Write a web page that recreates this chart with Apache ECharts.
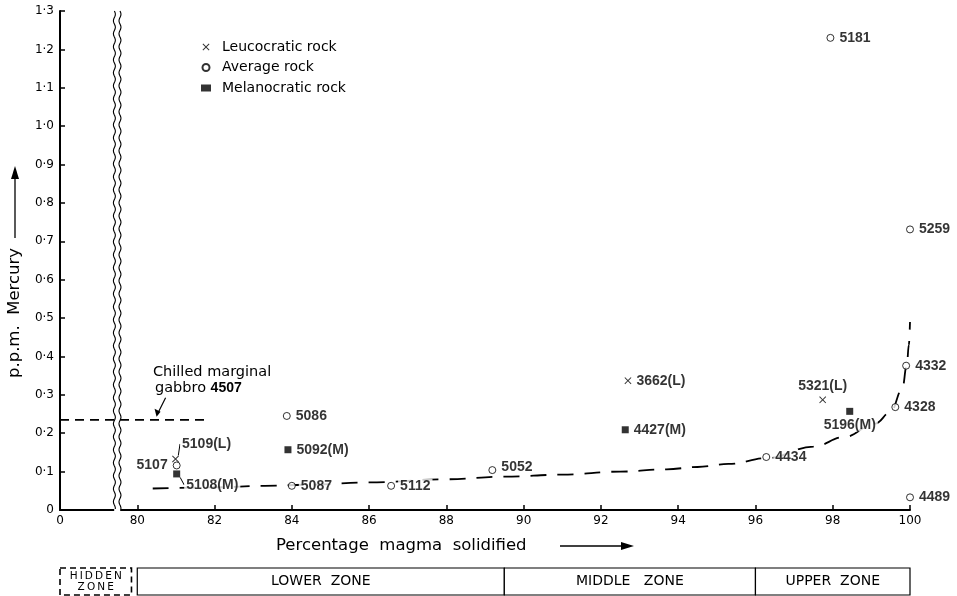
<!DOCTYPE html>
<html><head><meta charset="utf-8">
<script src="https://cdn.jsdelivr.net/npm/echarts@6/dist/echarts.min.js"></script>
<style>html,body{margin:0;padding:0;background:#fff}#c{width:957px;height:596px}</style>
</head><body><div id="c"></div>
<script>
// ---------- data ----------
const ZERO_AT = 78; // axis position at which the real value 0 is drawn (broken axis)
const xTickLabels = ['0','80','82','84','86','88','90','92','94','96','98','100'];
const yTickLabels = ['0','0·1','0·2','0·3','0·4','0·5','0·6','0·7','0·8','0·9','1·0','1·1','1·2','1·3'];

const leucoX  = [80.99, 92.70, 97.74];
const leucoY  = [0.133, 0.337, 0.287];
const leucoId = ['5109(L)', '3662(L)', '5321(L)'];

const avgX  = [97.94, 100.0, 99.90, 99.62, 100.0, 96.28, 89.19, 86.57, 84.00, 83.87, 81.02];
const avgY  = [1.230, 0.731, 0.376, 0.268, 0.033, 0.138, 0.104, 0.063, 0.063, 0.245, 0.116];
const avgId = ['5181', '5259', '4332', '4328', '4489', '4434', '5052', '5112', '5087', '5086', '5107'];

const melX  = [81.02, 83.90, 92.63, 98.44];
const melY  = [0.094, 0.157, 0.209, 0.257];
const melId = ['5108(M)', '5092(M)', '4427(M)', '5196(M)'];

const trendX = [80.4, 82.0, 83.3, 84.5, 86.0, 88.0, 89.5, 91.0, 92.5, 93.7, 94.5, 95.3, 96.3, 97.5, 98.3, 99.1, 99.5, 99.8, 99.92, 99.97, 100.0];
const trendY = [0.056, 0.059, 0.063, 0.066, 0.072, 0.080, 0.087, 0.092, 0.100, 0.106, 0.112, 0.120, 0.135, 0.165, 0.190, 0.225, 0.255, 0.315, 0.380, 0.430, 0.490];

const gabbroValue = 0.235;           // chilled marginal gabbro 4507
const gabbroRange = [0, 81.75];      // real x extent of the dashed line

const zoneNames = ['H\u2009I\u2009D\u2009D\u2009E\u2009N\nZ\u2009O\u2009N\u2009E', 'LOWER  ZONE', 'MIDDLE   ZONE', 'UPPER  ZONE'];
const zoneStart = [0, 80, 89.5, 96];
const zoneEnd   = [79.85, 89.5, 96, 100];
const zoneDashed = [true, false, false, false];

const breakAt = 79.48; // position of the axis break

// ---------- helpers ----------
const toAxis = v => (v < 50 ? ZERO_AT + v : v);
const INK = '#000';
const FONT = '"Liberation Sans", Arial, sans-serif';
const WIDE = '"DejaVu Sans", sans-serif';

const labelSide = { '5107': 'left', '5321(L)': 'top', '5196(M)': 'bottom' };
const labelOffset = { '5321(L)': [10, 0], '5196(M)': [-1, 0], '5052': [0, -3] };
const leaderMove = { '5109(L)': { dx: -2, dy: -15 }, '5108(M)': { dx: 1, dy: 11 } };

function pts(xs, ys, ids) {
  return xs.map((x, i) => {
    const id = ids[i];
    const item = { value: [toAxis(x), ys[i]], name: id };
    const lab = {};
    if (labelSide[id]) lab.position = labelSide[id];
    if (labelOffset[id]) lab.offset = labelOffset[id];
    item.label = lab;
    if (leaderMove[id]) item.labelLine = { show: true, lineStyle: { color: INK, width: 1 } };
    return item;
  });
}
const labelStyle = { show: true, position: 'right', distance: 3, formatter: p => p.name,
  fontFamily: FONT, fontWeight: 'bold', fontSize: 14, color: INK,
  backgroundColor: '#fff', padding: [0, 2] };
function layoutFor(ids) {
  return function (p) {
    const m = leaderMove[ids[p.dataIndex]];
    return m ? { dx: m.dx, dy: m.dy } : {};
  };
}

const chart = echarts.init(document.getElementById('c'), null, { renderer: 'canvas' });

const option = {
  animation: false,
  backgroundColor: '#fff',
  grid: [
    { left: 60, right: 47, top: 11, bottom: 86 },
    { left: 60, right: 47, top: 568, height: 27 }
  ],
  xAxis: [
    { gridIndex: 0, type: 'value', min: ZERO_AT, max: 100, interval: 2,
      axisLine: { lineStyle: { color: INK, width: 2 } },
      axisTick: { inside: true, length: 5, lineStyle: { color: INK, width: 1.5 } },
      splitLine: { show: false },
      axisLabel: { color: INK, fontFamily: WIDE, fontSize: 12, margin: 5,
        formatter: v => xTickLabels[Math.round((v - ZERO_AT) / 2)] } },
    { gridIndex: 1, type: 'value', min: ZERO_AT, max: 100, show: false }
  ],
  yAxis: [
    { gridIndex: 0, type: 'value', min: 0, max: 1.3, interval: 0.1,
      axisLine: { show: true, lineStyle: { color: INK, width: 2 } },
      axisTick: { show: true, inside: true, length: 5, lineStyle: { color: INK, width: 1.5 } },
      splitLine: { show: false },
      axisLabel: { color: INK, fontFamily: WIDE, fontSize: 12, margin: 6,
        formatter: v => yTickLabels[Math.round(v * 10)] } },
    { gridIndex: 1, type: 'value', min: 0, max: 1, show: false }
  ],
  legend: {
    orient: 'vertical', left: 196, top: 35, itemWidth: 10, itemHeight: 7, itemGap: 6.5,
    textStyle: { fontFamily: WIDE, fontSize: 14, color: INK, padding: [0, 0, 0, 6] },
    data: ['Leucocratic rock', 'Average rock', 'Melanocratic rock']
  },
  series: [
    { name: 'trend', type: 'line', xAxisIndex: 0, yAxisIndex: 0, z: 1, smooth: 0.4, smoothMonotone: 'x',
      showSymbol: false, symbol: 'none', silent: true,
      lineStyle: { color: INK, width: 1.8, type: [16, 11] },
      data: trendX.map((x, i) => [x, trendY[i]]) },
    { name: 'gabbro', type: 'line', xAxisIndex: 0, yAxisIndex: 0, z: 1, symbol: 'none', silent: true,
      lineStyle: { color: INK, width: 1.8, type: [9, 6] },
      data: gabbroRange.map(x => [toAxis(x), gabbroValue]) },
    { name: 'break', type: 'custom', xAxisIndex: 0, yAxisIndex: 0, z: 2, silent: true,
      data: [[breakAt]],
      renderItem: function (params, api) {
        const xv = api.value(0);
        const top = api.coord([xv, 1.3]);
        const bot = api.coord([xv, 0]);
        const children = [{ type: 'rect', shape: { x: top[0] - 3, y: top[1], width: 6, height: bot[1] - top[1] + 2 },
          style: { fill: '#fff' } }];
        [-2.8, 2.8].forEach(off => {
          const p = [];
          for (let y = top[1]; y <= bot[1]; y += 1.5) {
            p.push([top[0] + off + 1.0 * Math.sin((y - top[1]) / 13 * 2 * Math.PI), y]);
          }
          children.push({ type: 'polyline', shape: { points: p }, style: { stroke: INK, lineWidth: 1.1, fill: null } });
        });
        return { type: 'group', children };
      } },
    { name: 'Leucocratic rock', type: 'scatter', xAxisIndex: 0, yAxisIndex: 0, z: 5,
      symbol: 'path://M0,1L1,0L5,4L9,0L10,1L6,5L10,9L9,10L5,6L1,10L0,9L4,5Z', symbolSize: 7,
      itemStyle: { color: INK },
      label: labelStyle, labelLayout: layoutFor(leucoId),
      data: pts(leucoX, leucoY, leucoId) },
    { name: 'Average rock', type: 'scatter', xAxisIndex: 0, yAxisIndex: 0, z: 5,
      symbol: 'circle', symbolSize: 7,
      itemStyle: { color: '#fff', borderColor: INK, borderWidth: 1 },
      label: labelStyle,
      data: pts(avgX, avgY, avgId) },
    { name: 'Melanocratic rock', type: 'scatter', xAxisIndex: 0, yAxisIndex: 0, z: 5,
      symbol: 'rect', symbolSize: 7,
      itemStyle: { color: INK },
      label: labelStyle, labelLayout: layoutFor(melId),
      data: pts(melX, melY, melId) },
    { name: 'zones', type: 'custom', xAxisIndex: 1, yAxisIndex: 1, silent: true,
      data: zoneNames.map((n, i) => [toAxis(zoneStart[i]), toAxis(zoneEnd[i]), i]),
      renderItem: function (params, api) {
        const i = api.value(2);
        const a = api.coord([api.value(0), 1]);
        const b = api.coord([api.value(1), 0]);
        const dashed = zoneDashed[i];
        const small = zoneNames[i].indexOf('\n') >= 0;
        return { type: 'group', children: [
          { type: 'rect', shape: { x: a[0], y: a[1], width: b[0] - a[0], height: b[1] - a[1] },
            style: { fill: '#fff', stroke: INK, lineWidth: dashed ? 1.6 : 1.2, lineDash: dashed ? [6, 4] : null } },
          { type: 'text', style: { text: zoneNames[i], x: (a[0] + b[0]) / 2, y: (a[1] + b[1]) / 2,
            align: 'center', verticalAlign: 'middle', fill: INK, fontFamily: WIDE,
            fontSize: small ? 10.5 : 14, lineHeight: small ? 11 : 16 } }
        ] };
      } }
  ]
};
chart.setOption(option);

// ---------- annotations (axis titles, arrows, callout) ----------
const g = [];
g.push({ type: 'text', x: 15, y: 313, rotation: Math.PI / 2,
  style: { text: 'p.p.m.  Mercury', fontFamily: WIDE, fontSize: 16.5, fill: INK, align: 'center', verticalAlign: 'middle' } });
g.push({ type: 'line', shape: { x1: 15, y1: 238, x2: 15, y2: 176 }, style: { stroke: INK, lineWidth: 1.3 } });
g.push({ type: 'polygon', shape: { points: [[15, 166], [11, 179], [19, 179]] }, style: { fill: INK } });
g.push({ type: 'text', x: 276, y: 546,
  style: { text: 'Percentage  magma  solidified', fontFamily: WIDE, fontSize: 16.5, fill: INK, align: 'left', verticalAlign: 'middle' } });
g.push({ type: 'line', shape: { x1: 560, y1: 546, x2: 624, y2: 546 }, style: { stroke: INK, lineWidth: 1.3 } });
g.push({ type: 'polygon', shape: { points: [[634, 546], [621, 542], [621, 550]] }, style: { fill: INK } });
// callout for the chilled marginal gabbro line
const tip = chart.convertToPixel({ xAxisIndex: 0, yAxisIndex: 0 }, [80.5, gabbroValue]);
g.push({ type: 'text', x: 153, y: tip[1] - 48,
  style: { text: 'Chilled marginal', fontFamily: WIDE, fontSize: 14.5, fill: INK, align: 'left', verticalAlign: 'middle' } });
g.push({ type: 'text', x: 155, y: tip[1] - 32,
  style: { text: 'gabbro {b|4507}', fontFamily: WIDE, fontSize: 14.5, fill: INK, align: 'left', verticalAlign: 'middle',
    rich: { b: { fontFamily: FONT, fontSize: 14, fontWeight: 'bold', fill: INK } } } });
g.push({ type: 'line', shape: { x1: tip[0] + 9, y1: tip[1] - 22, x2: tip[0] + 2, y2: tip[1] - 8 }, style: { stroke: INK, lineWidth: 1.2 } });
g.push({ type: 'polygon', shape: { points: [[tip[0], tip[1] - 3], [tip[0] - 2, tip[1] - 11], [tip[0] + 4, tip[1] - 8]] }, style: { fill: INK } });
chart.setOption({ graphic: g });
</script>
</body></html>
